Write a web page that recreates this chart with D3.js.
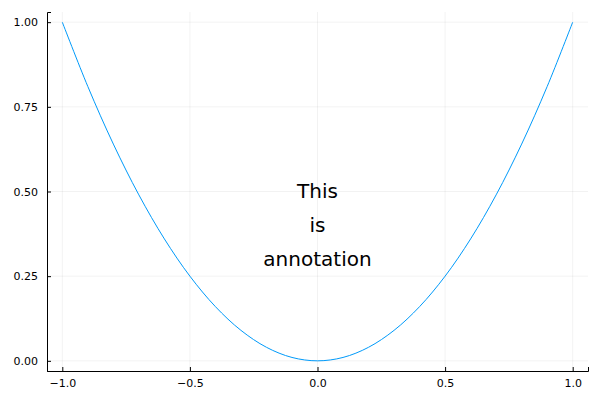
<!DOCTYPE html>
<html>
<head>
<meta charset="utf-8">
<script src="https://cdn.jsdelivr.net/npm/d3@7"></script>
<style>
  body { margin: 0; background: #fff; }
  text { font-family: "DejaVu Sans", sans-serif; }
</style>
</head>
<body>
<div id="chart"></div>
<script>
// values
var xs = [-1.0, -0.9, -0.8, -0.7, -0.6, -0.5, -0.4, -0.3, -0.2, -0.1, 0.0,
          0.1, 0.2, 0.3, 0.4, 0.5, 0.6, 0.7, 0.8, 0.9, 1.0];
var ys = [1.00, 0.81, 0.64, 0.49, 0.36, 0.25, 0.16, 0.09, 0.04, 0.01, 0.00,
          0.01, 0.04, 0.09, 0.16, 0.25, 0.36, 0.49, 0.64, 0.81, 1.00];
var xTicks = [-1.0, -0.5, 0.0, 0.5, 1.0];
var yTicks = [0.00, 0.25, 0.50, 0.75, 1.00];
var noteLines = ["This", "is", "annotation"];
var noteAt = [0.0, 0.4];

var W = 600, H = 400;
var mLeft = 47, mRight = 588, mTop = 12, mBottom = 371;

var svg = d3.select("#chart")
			.append("svg")
				.attr("width", W)
				.attr("height", H)
				.attr("viewBox", [0, 0, W, H]);

var x = d3.scaleLinear().domain([-1.06, 1.06]).range([mLeft, mRight]);
var y = d3.scaleLinear().domain([-0.03, 1.03]).range([mBottom, mTop]);

// grid
svg.append("g")
	.selectAll("line")
	.data(xTicks)
	.join("line")
	.attr("x1", d => x(d)).attr("x2", d => x(d))
	.attr("y1", mTop).attr("y2", mBottom)
	.attr("stroke", "#000").attr("stroke-opacity", 0.1).attr("stroke-width", 0.5);

svg.append("g")
	.selectAll("line")
	.data(yTicks)
	.join("line")
	.attr("x1", mLeft).attr("x2", mRight)
	.attr("y1", d => y(d)).attr("y2", d => y(d))
	.attr("stroke", "#000").attr("stroke-opacity", 0.1).attr("stroke-width", 0.5);

// axes, ticks pointing inward
var xAxis = svg.append("g")
	.attr("transform", "translate(0," + mBottom + ")")
	.call(d3.axisTop(x).tickValues(xTicks).tickFormat(d3.format(".1f")).tickSizeOuter(0).tickSize(4));
xAxis.selectAll("text").attr("y", 16).attr("dy", 0).style("font-size", "11px").attr("fill", "#000");

var yAxis = svg.append("g")
	.attr("transform", "translate(" + mLeft + ",0)")
	.call(d3.axisRight(y).tickValues(yTicks).tickFormat(d3.format(".2f")).tickSizeOuter(0).tickSize(4));
yAxis.selectAll("text").attr("x", -9).attr("text-anchor", "end").style("font-size", "11px").attr("fill", "#000");

[xAxis, yAxis].forEach(function(a) {
	a.select(".domain").attr("stroke", "#000").attr("stroke-width", 1);
	a.selectAll(".tick line").attr("stroke", "#000");
});

// the curve
var pts = xs.map((v, i) => [v, ys[i]]);
svg.append("path")
	.datum(pts)
	.attr("fill", "none")
	.attr("stroke", "#009afa")
	.attr("stroke-width", 1)
	.attr("d", d3.line().x(d => x(d[0])).y(d => y(d[1])).curve(d3.curveCatmullRom));

// annotation
svg.append("g")
	.selectAll("text")
	.data(noteLines)
	.join("text")
	.attr("x", x(noteAt[0]))
	.attr("y", (d, i) => y(noteAt[1]) + (i - 1) * 34)
	.attr("dy", "0.35em")
	.attr("text-anchor", "middle")
	.style("font-size", "20px")
	.text(d => d);
</script>
</body>
</html>
